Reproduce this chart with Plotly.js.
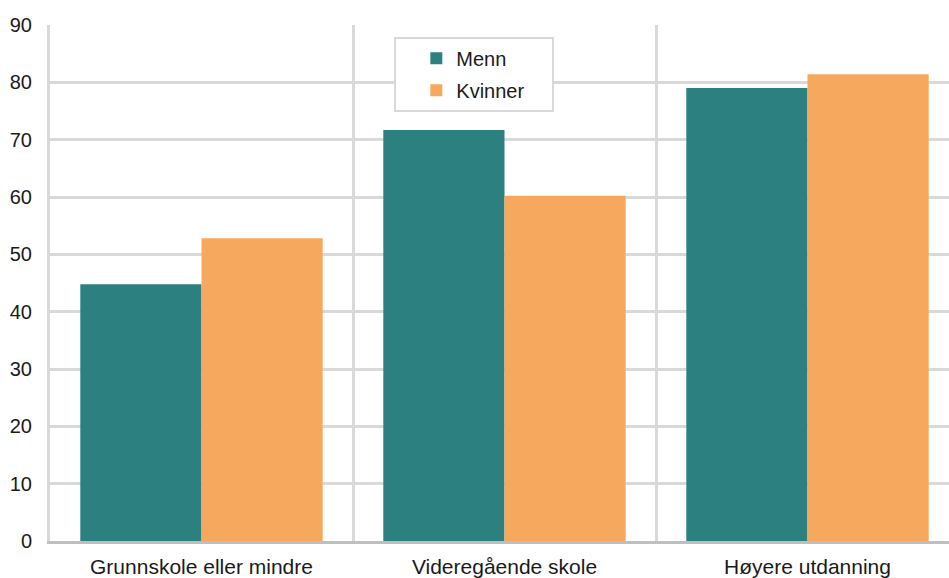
<!DOCTYPE html>
<html>
<head>
<meta charset="utf-8">
<script src="https://cdn.plot.ly/plotly-3.0.1.min.js"></script>
<style>html,body{margin:0;padding:0;background:#fff;}#chart{width:949px;height:578px;}</style>
</head>
<body>
<div id="chart"></div>
<script>
const categories = ["Grunnskole eller mindre", "Videregående skole", "Høyere utdanning"];
const seriesNames = ["Menn", "Kvinner"];
const menn = [44.8, 71.7, 79.0];
const kvinner = [52.8, 60.2, 81.4];
const yTicks = [0, 10, 20, 30, 40, 50, 60, 70, 80, 90];

const colors = ["#2c8180", "#f6a95e"];
const fam = "Liberation Sans, Arial, sans-serif";
const yFont = {family: fam, size: 20, color: "#1a1a1a"};
const xFont = {family: fam, size: 21, color: "#1a1a1a"};
const legFont = {family: fam, size: 20, color: "#1a1a1a"};
const pad = "\u00a0\u00a0\u00a0\u00a0";

const data = [menn, kvinner].map((vals, i) => ({
  type: "bar",
  name: seriesNames[i] + pad,
  x: categories,
  y: vals,
  marker: {color: colors[i]},
  legendgroup: "g" + i,
  hoverinfo: "x+y+name"
}));

const layout = {
  width: 949, height: 578,
  margin: {l: 50, r: 0, t: 25, b: 37},
  paper_bgcolor: "#fff", plot_bgcolor: "#fff",
  font: yFont,
  barmode: "group", bargap: 0.2, bargroupgap: 0,
  showlegend: true,
  legend: {
    x: 0.383, y: 0.977, xanchor: "left", yanchor: "top",
    bordercolor: "#d9d9d9", borderwidth: 2, bgcolor: "#fff",
    font: legFont, tracegroupgap: 3, indentation: 20,
    traceorder: "grouped"
  },
  xaxis: {
    type: "category",
    range: [-0.5, 2.467],
    tickson: "boundaries",
    showgrid: true, gridcolor: "#d9d9d9", gridwidth: 3,
    showline: true, linecolor: "#bfbfbf", linewidth: 3,
    ticks: "", ticklabelstandoff: 5,
    tickfont: xFont, fixedrange: true
  },
  yaxis: {
    range: [0, 90],
    tickvals: yTicks,
    showgrid: true, gridcolor: "#d9d9d9", gridwidth: 3,
    zeroline: false,
    showline: true, linecolor: "#d9d9d9", linewidth: 3,
    ticks: "outside", ticklen: 11, tickcolor: "rgba(0,0,0,0)",
    tickfont: yFont, fixedrange: true
  }
};

Plotly.newPlot("chart", data, layout, {displayModeBar: false, staticPlot: true});
</script>
</body>
</html>
